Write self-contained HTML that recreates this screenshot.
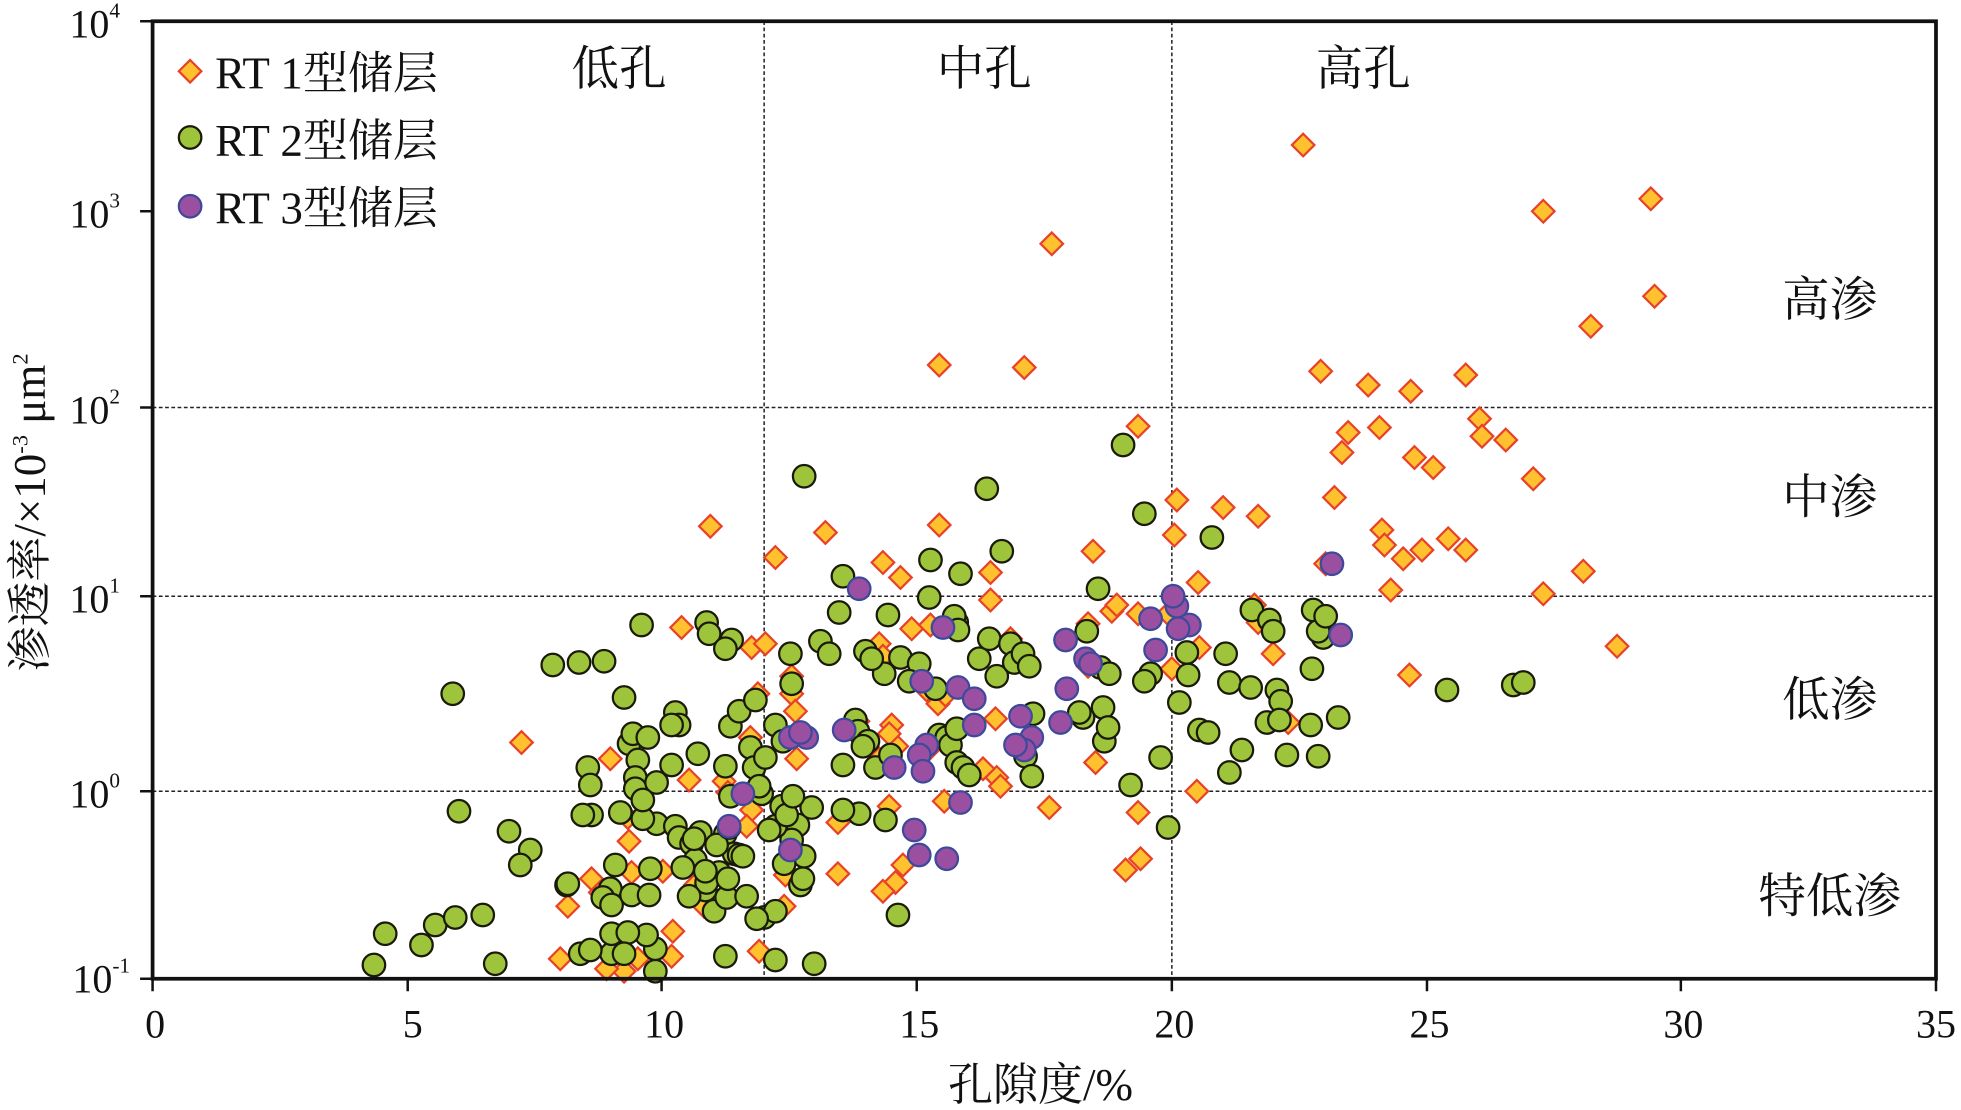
<!DOCTYPE html>
<html><head><meta charset="utf-8"><style>
html,body{margin:0;padding:0;background:#fff;}
svg{display:block;}
text{font-family:"Liberation Serif","Noto Serif CJK SC","Noto Sans CJK SC",serif;fill:#111;}
</style></head><body>
<svg id="s" width="1961" height="1110" viewBox="0 0 1568 888" preserveAspectRatio="none" xmlns="http://www.w3.org/2000/svg">
<g stroke="#222" stroke-width="1.2" stroke-dasharray="3,2" fill="none">
<line x1="122" y1="326" x2="1548" y2="326"/>
<line x1="122" y1="477" x2="1548" y2="477"/>
<line x1="122" y1="633" x2="1548" y2="633"/>
<line x1="611" y1="17" x2="611" y2="783"/>
<line x1="937" y1="17" x2="937" y2="783"/>
</g>
<g id="pts"></g>
<rect x="122" y="17" width="1426" height="766" fill="none" stroke="#111" stroke-width="3"/>
<g stroke="#111" stroke-width="2">
<line x1="122" y1="783" x2="122" y2="793"/><line x1="326" y1="783" x2="326" y2="793"/><line x1="529" y1="783" x2="529" y2="793"/><line x1="733" y1="783" x2="733" y2="793"/><line x1="937" y1="783" x2="937" y2="793"/><line x1="1141" y1="783" x2="1141" y2="793"/><line x1="1344" y1="783" x2="1344" y2="793"/><line x1="1548" y1="783" x2="1548" y2="793"/>
<line x1="112" y1="17" x2="122" y2="17"/><line x1="112" y1="169" x2="122" y2="169"/><line x1="112" y1="326" x2="122" y2="326"/><line x1="112" y1="477" x2="122" y2="477"/><line x1="112" y1="633" x2="122" y2="633"/><line x1="112" y1="783" x2="122" y2="783"/>
</g>
<g font-size="32" text-anchor="middle">
<text x="124" y="830">0</text><text x="330" y="830">5</text><text x="531" y="830">10</text><text x="735" y="830">15</text><text x="939" y="830">20</text><text x="1143" y="830">25</text><text x="1346" y="830">30</text><text x="1548" y="830">35</text>
</g>
<g font-size="32" text-anchor="end">
<text x="96" y="30">10<tspan font-size="17" dy="-16">4</tspan></text>
<text x="96" y="182">10<tspan font-size="17" dy="-16">3</tspan></text>
<text x="96" y="339">10<tspan font-size="17" dy="-16">2</tspan></text>
<text x="96" y="490">10<tspan font-size="17" dy="-16">1</tspan></text>
<text x="96" y="646">10<tspan font-size="17" dy="-16">0</tspan></text>
<text x="104" y="794">10<tspan font-size="17" dy="-16">-1</tspan></text>
</g>
<text x="832" y="880" font-size="36" text-anchor="middle">孔隙度/%</text>
<text transform="translate(36,410) rotate(-90)" font-size="36" text-anchor="middle">渗透率/×10<tspan font-size="18" dy="-14">-3</tspan><tspan dy="14"> μm</tspan><tspan font-size="18" dy="-14">2</tspan></text>
<g font-size="38" text-anchor="middle">
<text x="495" y="68">低孔</text><text x="787" y="68">中孔</text><text x="1090" y="68">高孔</text>
<text x="1463" y="253">高渗</text><text x="1463" y="411">中渗</text><text x="1463" y="573">低渗</text><text x="1463" y="730">特低渗</text>
</g>
<g font-size="36">
<text x="172" y="71">RT 1型储层</text><text x="172" y="125">RT 2型储层</text><text x="172" y="179">RT 3型储层</text>
</g>
<g id="leg"></g>
</svg>
<script>
var NS="http://www.w3.org/2000/svg";
var D=[[1042,116],[1234,169],[1320,159],[1323,237],[1272,261],[841,195],[751,292],[819,294],[1056,297],[1094,308],[1128,313],[1172,300],[910,341],[1183,335],[1185,349],[1204,352],[1078,346],[1103,342],[1073,362],[1131,366],[1146,374],[1226,383],[1067,398],[941,400],[978,406],[1006,413],[939,428],[1105,424],[1107,436],[1158,431],[1172,440],[1137,440],[1122,447],[568,421],[660,426],[751,420],[620,446],[706,450],[720,462],[874,441],[792,458],[958,466],[1266,457],[1112,472],[1234,475],[1060,451],[792,480],[889,489],[893,484],[545,502],[601,518],[612,515],[729,503],[744,500],[934,491],[910,491],[870,499],[1003,484],[1006,498],[1293,517],[1018,523],[1127,540],[959,518],[937,535],[870,533],[808,511],[703,515],[706,525],[633,541],[633,555],[796,575],[750,563],[713,580],[717,597],[703,607],[686,577],[711,587],[636,569],[637,607],[600,590],[606,555],[1030,578],[417,594],[488,607],[551,624],[579,625],[582,634],[755,641],[797,622],[800,629],[839,646],[876,610],[957,633],[910,650],[601,648],[597,661],[670,658],[502,654],[503,673],[912,687],[900,696],[722,692],[716,706],[706,713],[670,699],[633,680],[628,700],[627,725],[556,708],[563,725],[454,725],[473,703],[480,714],[505,698],[530,697],[538,745],[448,767],[537,765],[510,767],[607,761],[499,777],[485,775],[711,645],[741,552],[756,556],[786,615],[742,600]];
var G=[[643,381],[789,391],[898,356],[915,411],[969,430],[801,441],[768,459],[878,471],[743,478],[565,498],[513,500],[567,507],[585,512],[580,519],[442,532],[463,530],[483,529],[362,555],[499,558],[540,570],[543,580],[537,580],[503,595],[506,587],[518,590],[510,608],[508,622],[508,631],[470,614],[472,628],[473,652],[367,649],[407,665],[424,680],[416,692],[453,708],[492,692],[488,711],[482,718],[489,724],[505,716],[519,716],[520,695],[525,659],[540,661],[543,670],[553,675],[560,666],[556,688],[575,698],[564,712],[565,706],[551,717],[571,729],[581,718],[546,694],[580,667],[587,683],[584,637],[584,581],[591,569],[580,613],[600,598],[604,560],[603,614],[597,717],[609,635],[607,629],[612,606],[620,580],[626,593],[625,645],[638,660],[633,672],[620,661],[629,652],[643,685],[640,708],[611,734],[620,729],[632,523],[633,547],[656,513],[663,523],[671,490],[710,492],[720,526],[692,521],[684,576],[686,585],[735,531],[707,539],[727,545],[744,448],[748,551],[751,588],[757,590],[760,596],[765,610],[765,583],[770,614],[775,620],[765,498],[763,493],[766,504],[783,527],[791,511],[797,541],[808,515],[811,530],[818,523],[823,533],[820,605],[825,621],[826,571],[869,505],[880,534],[887,539],[882,566],[866,574],[863,570],[883,593],[886,582],[904,628],[920,539],[915,545],[928,606],[934,662],[949,522],[950,540],[943,562],[959,584],[966,586],[980,523],[983,618],[983,546],[993,600],[1000,550],[1001,488],[1021,552],[1015,496],[1018,505],[1024,561],[1013,578],[1029,604],[1023,576],[1050,488],[1056,505],[1058,510],[1054,505],[1049,535],[1048,580],[1054,605],[1070,574],[1060,493],[1157,552],[1210,548],[1218,546],[674,461],[591,684],[514,655],[464,763],[489,763],[524,777],[651,771],[620,768],[580,765],[489,747],[524,759],[517,748],[502,746],[299,772],[308,747],[337,756],[348,740],[364,734],[386,732],[396,771],[700,614],[697,527],[674,612],[694,593],[690,597],[712,604],[718,732],[708,656],[687,651],[674,648],[649,646],[634,637],[615,664],[627,691],[594,685],[582,703],[573,676],[605,735],[642,703],[555,671],[537,612],[525,626],[558,603],[583,662],[514,640],[496,650],[466,652],[454,707],[472,760],[499,763],[564,697]];
var P=[[687,471],[754,502],[1065,451],[941,485],[920,495],[951,500],[942,503],[1072,508],[852,512],[868,527],[872,531],[853,551],[766,550],[779,559],[848,578],[816,573],[825,590],[779,580],[737,545],[741,596],[735,604],[738,617],[715,614],[675,584],[645,590],[632,590],[640,586],[819,600],[812,596],[594,635],[583,661],[768,642],[731,664],[735,684],[757,687],[632,680],[938,477],[924,520]];
var g=document.getElementById('pts'),L=document.getElementById('leg');
function dia(p,par){var e=document.createElementNS(NS,'polygon');var x=p[0],y=p[1],r=9;e.setAttribute('points',(x)+','+(y-r)+' '+(x+r)+','+y+' '+x+','+(y+r)+' '+(x-r)+','+y);e.setAttribute('fill','#ffc12e');e.setAttribute('stroke','#e8412a');e.setAttribute('stroke-width','1.8');par.appendChild(e);}
function cir(p,f,s,par){var e=document.createElementNS(NS,'circle');e.setAttribute('cx',p[0]);e.setAttribute('cy',p[1]);e.setAttribute('r',9);e.setAttribute('fill',f);e.setAttribute('stroke',s);e.setAttribute('stroke-width','1.8');par.appendChild(e);}
D.forEach(function(p){dia(p,g)});
G.forEach(function(p){cir(p,'#9dc43a','#1a1a0a',g)});
P.forEach(function(p){cir(p,'#9b4fa0','#3d4a9c',g)});
dia([152,57],L);cir([152,110],'#9dc43a','#1a1a0a',L);cir([152,165],'#9b4fa0','#3d4a9c',L);
</script>
</body></html>
